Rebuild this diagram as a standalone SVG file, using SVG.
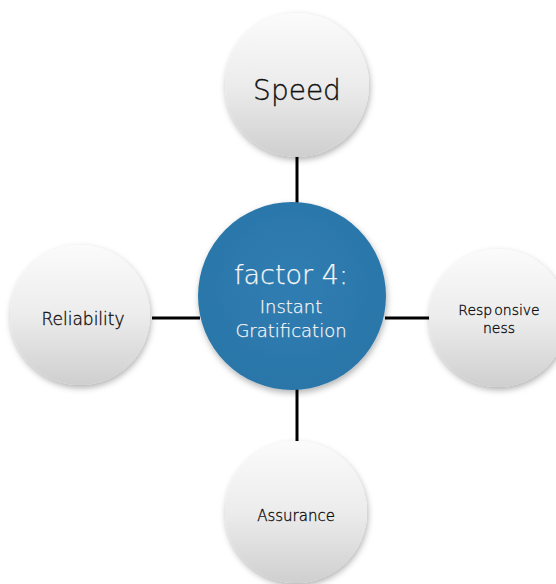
<svg xmlns="http://www.w3.org/2000/svg" width="556" height="584" viewBox="0 0 556 584">
  <defs>
    <linearGradient id="sphere" x1="0" y1="0" x2="0" y2="1">
      <stop offset="0" stop-color="#fbfbfb"/>
      <stop offset="0.5" stop-color="#ececec"/>
      <stop offset="1" stop-color="#cfcfcf"/>
    </linearGradient>
    <radialGradient id="disc" cx="0.5" cy="0.45" r="0.55">
      <stop offset="0" stop-color="#2f7db2"/>
      <stop offset="1" stop-color="#2b76a9"/>
    </radialGradient>
    <filter id="shadow" x="-20%" y="-20%" width="140%" height="140%">
      <feDropShadow dx="1" dy="3" stdDeviation="3" flood-color="#000" flood-opacity="0.3"/>
    </filter>
    <style>
      .bubble { fill: url(#sphere); filter: url(#shadow); }
      .label { font-family: "DejaVu Sans", "Liberation Sans", sans-serif; font-weight: 200; fill: #111; stroke: #111; stroke-width: 0.35; text-anchor: middle; }
      .core { font-family: "DejaVu Sans", "Liberation Sans", sans-serif; font-weight: 200; fill: #f6f6f6; stroke: #f6f6f6; stroke-width: 0.25; text-anchor: middle; }
      .link { stroke: #000; stroke-width: 3; fill: none; }
    </style>
  </defs>
  <rect width="556" height="584" fill="#fff"/>

  <g id="connectors">
    <line class="link" x1="297" y1="156" x2="297" y2="204"/>
    <line class="link" x1="385" y1="318" x2="430" y2="318"/>
    <line class="link" x1="152" y1="318" x2="200" y2="318"/>
    <line class="link" x1="297" y1="388" x2="297" y2="442"/>
  </g>

  <g id="speed">
    <circle class="bubble" cx="297" cy="85" r="72"/>
    <text class="label" x="297" y="100" font-size="28">Speed</text>
  </g>

  <g id="reliability">
    <circle class="bubble" cx="80" cy="315" r="70"/>
    <text class="label" x="83" y="325" font-size="17">Reliability</text>
  </g>

  <g id="responsiveness">
    <circle class="bubble" cx="498" cy="318" r="69"/>
    <text class="label" x="499" y="315" font-size="14">Resp<tspan dx="2">onsive</tspan></text>
    <text class="label" x="499" y="333" font-size="14">ness</text>
  </g>

  <g id="assurance">
    <circle class="bubble" cx="296" cy="512" r="71"/>
    <text class="label" x="296" y="521" font-size="15">Assurance</text>
  </g>

  <g id="factor4">
    <circle cx="292" cy="296" r="94" fill="url(#disc)" filter="url(#shadow)"/>
    <text class="core" x="291" y="284" font-size="27">factor 4:</text>
    <text class="core" x="291" y="313" font-size="18">Instant</text>
    <text class="core" x="291" y="337" font-size="18">Gratification</text>
  </g>
</svg>
